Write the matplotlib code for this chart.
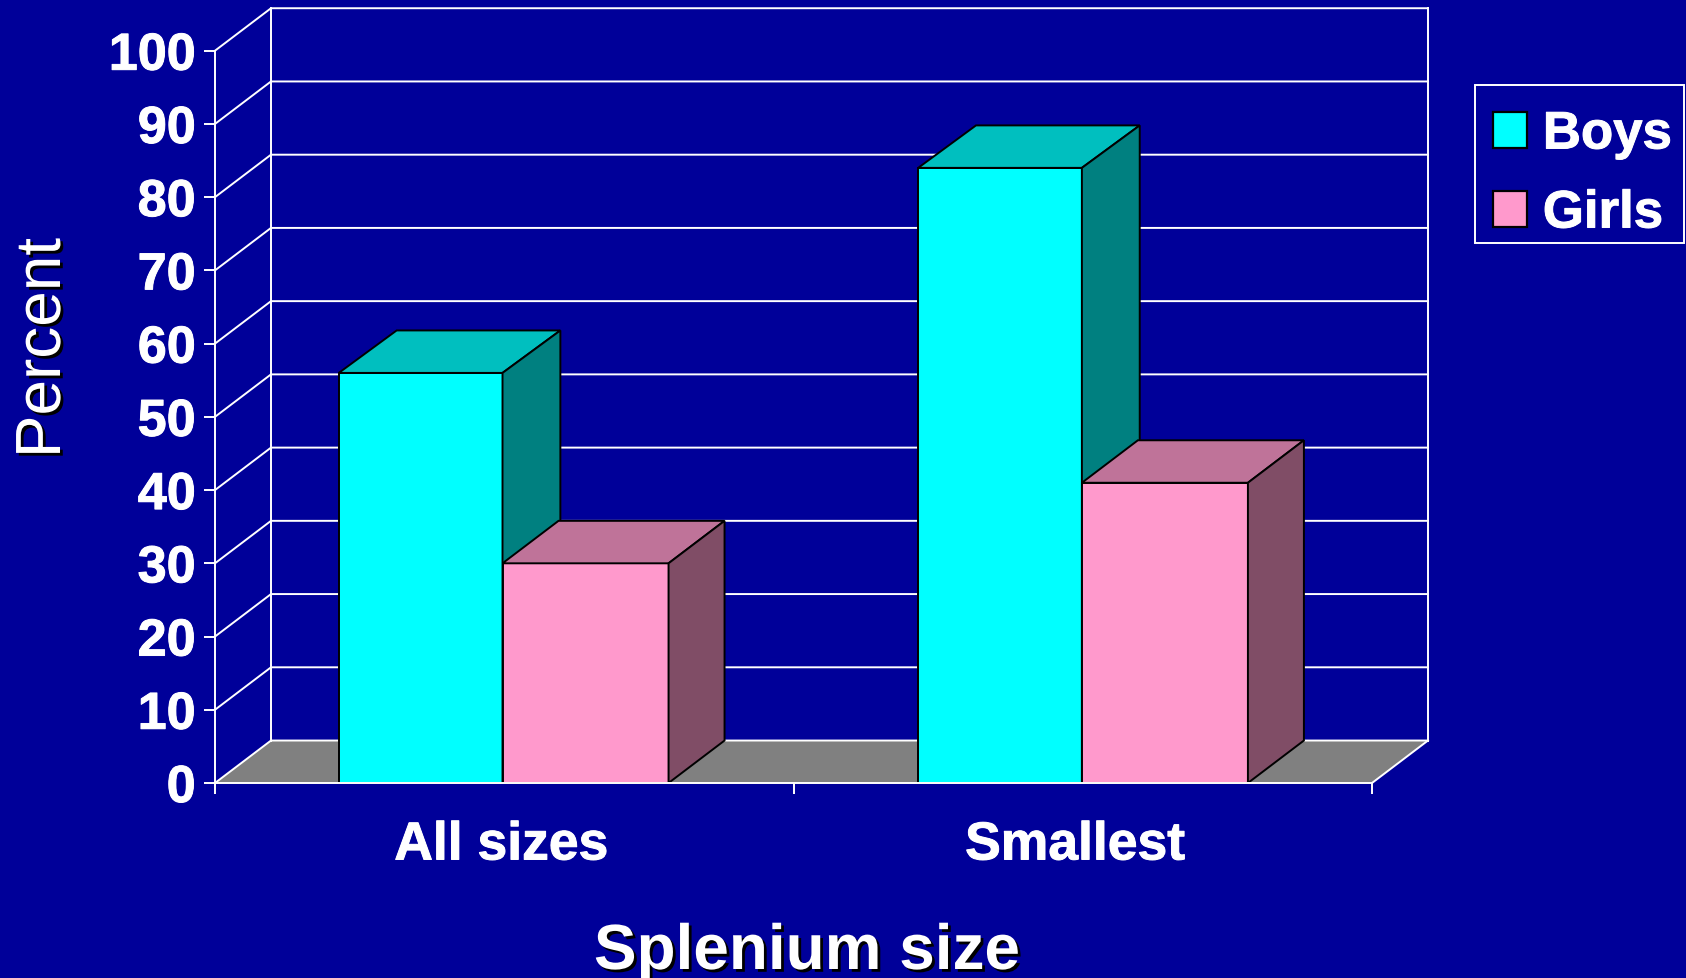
import matplotlib
matplotlib.use("Agg")
import matplotlib.pyplot as plt
import matplotlib.patheffects as pe
from matplotlib.patches import Patch, Rectangle

plt.rcParams['font.family'] = ['Liberation Sans', 'DejaVu Sans']

# data
categories = ["All sizes", "Smallest"]
boys = [56, 84]
girls = [30, 41]
yticks = list(range(0, 101, 10))

bg = "#000099"
boys_cols = ["#00FFFF", "#00BFBF", "#008080"]
girls_cols = ["#FF99CC", "#BF7399", "#804D66"]

W, H = 1686, 979
group_left = [0.214, 1.2155]
boys_w = 0.283
girls_w = 0.287
# fake 3d depth in data units
dx = 0.0968
dy = 5.8
lw = 1.4

fig = plt.figure(figsize=(W / 100, H / 100), dpi=100, facecolor=bg)
ax = fig.add_axes([215 / W, 1 - 784 / H, (1372 - 215) / W, (784 - 51.7) / H], facecolor="none")
ax.set_xlim(0, 2)
ax.set_ylim(0, 100)

# floor
ax.fill([0, 2, 2 + dx, dx], [0, 0, dy, dy], color="#808080", lw=0, zorder=1, clip_on=False)

# walls
for v in yticks:
    ax.plot([0, dx, 2 + dx], [v, v + dy, v + dy], color="white", lw=lw, zorder=1, clip_on=False)
ax.plot([dx, dx], [dy, 100 + dy], color="white", lw=lw, zorder=1, clip_on=False)
ax.plot([2 + dx, 2 + dx], [dy, 100 + dy], color="white", lw=lw, zorder=1, clip_on=False)
ax.plot([2, 2 + dx], [0, dy], color="white", lw=lw, zorder=1, clip_on=False)


def draw_bar(x, w, val, cols, depth):
    ax.bar(x, val, w, align="edge", color=cols[0], edgecolor="black", linewidth=lw, zorder=2, clip_on=False)
    ax.fill([x, x + w, x + w + depth, x + depth], [val, val, val + dy, val + dy],
            facecolor=cols[1], edgecolor="black", linewidth=lw, zorder=2, clip_on=False)
    ax.fill([x + w, x + w + depth, x + w + depth, x + w], [0, dy, val + dy, val],
            facecolor=cols[2], edgecolor="black", linewidth=lw, zorder=2, clip_on=False)


for i in range(len(categories)):
    draw_bar(group_left[i], boys_w, boys[i], boys_cols, 0.1)
    draw_bar(group_left[i] + boys_w, girls_w, girls[i], girls_cols, dx)

# axes
for s in ["top", "right"]:
    ax.spines[s].set_visible(False)
for s in ["left", "bottom"]:
    ax.spines[s].set_color("white")
    ax.spines[s].set_linewidth(lw)
    ax.spines[s].set_zorder(5)

heavy = [pe.withStroke(linewidth=0.7, foreground="white")]

ax.set_yticks(yticks)
ax.set_yticklabels([str(v) for v in yticks], fontsize=37.5, fontweight="bold", color="white", path_effects=heavy)
ax.tick_params(axis="y", color="white", width=lw, length=8, pad=6)
ax.set_xticks([0, 1, 2])
ax.set_xticklabels([])
ax.tick_params(axis="x", which="major", color="white", width=lw, length=8)
ax.set_xticks([0.495, 1.487], minor=True)
ax.set_xticklabels(categories, minor=True, fontsize=38.5, fontweight="bold", color="white", path_effects=heavy)
ax.tick_params(axis="x", which="minor", length=0, pad=27)

shadow = [pe.withSimplePatchShadow(offset=(2, -2), shadow_rgbFace="black", alpha=1, rho=1)]
fig.text(807 / W, 1 - 970 / H, "Splenium size", fontsize=46, fontweight="bold", color="white",
         ha="center", va="baseline", path_effects=shadow)
fig.text(43 / W, 1 - 349 / H, "Percent", fontsize=46, color="white", rotation=90,
         ha="center", va="center", path_effects=shadow)

# legend box is a separate rectangle, its padding is not even
fig.add_artist(Rectangle((1474.5 / W, 1 - 243.5 / H), 209.5 / W, 157 / H, transform=fig.transFigure,
                         facecolor=bg, edgecolor="white", linewidth=lw))
handles = [Patch(facecolor=boys_cols[0], edgecolor="black", linewidth=1.6, label="Boys"),
           Patch(facecolor=girls_cols[0], edgecolor="black", linewidth=1.6, label="Girls")]
leg = fig.legend(handles=handles, loc="upper left", bbox_to_anchor=(1492.7 / W, 1 - 110.5 / H),
                 bbox_transform=fig.transFigure, frameon=False, borderaxespad=0,
                 handlelength=0.65, handleheight=0.65, handletextpad=0.3,
                 labelspacing=0.55, borderpad=0,
                 prop={"size": 38, "weight": "bold"})
for t in leg.get_texts():
    t.set_color("white")
    t.set_path_effects(heavy)

fig.savefig("out.png", dpi=100, facecolor=bg)
